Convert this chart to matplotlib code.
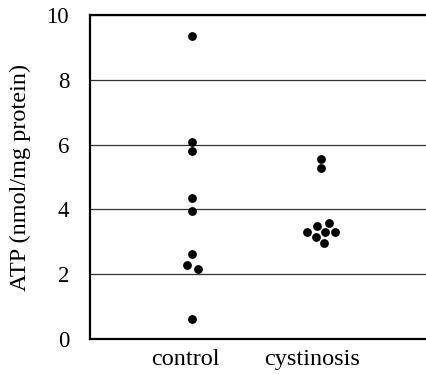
import matplotlib
matplotlib.use("Agg")
import matplotlib.pyplot as plt

# ATP content per group (nmol/mg protein)
categories = ["control", "cystinosis"]
control_atp = [9.34, 6.07, 5.81, 4.34, 3.94, 2.61, 2.28, 2.16, 0.63]
cystinosis_atp = [5.55, 5.28, 3.57, 3.49, 3.31, 3.31, 3.31, 3.16, 2.95]
yticks = [0, 2, 4, 6, 8, 10]

# horizontal spread of overlapping dots around each group position
control_dx = [0.055, 0.055, 0.055, 0.055, 0.055, 0.055, 0.013, 0.10, 0.055]
cystinosis_dx = [0.07, 0.07, 0.136, 0.037, -0.037, 0.102, 0.183, 0.031, 0.094]

plt.rcParams["font.family"] = ["Liberation Serif", "DejaVu Serif"]

fig = plt.figure(figsize=(4.26, 3.74), dpi=100)
ax = fig.add_axes([90 / 426, 1 - 339 / 374, 336 / 426, 324 / 374])

ax.set_ylim(0, 10)
ax.set_xlim(0.252, 2.898)
ax.set_yticks(yticks)
ax.set_yticklabels([str(t) for t in yticks])
ax.yaxis.grid(True, color="#333333", linewidth=0.9)
ax.set_axisbelow(True)

for pos, vals, dx in [(1, control_atp, control_dx), (2, cystinosis_atp, cystinosis_dx)]:
    ax.scatter([pos + d for d in dx], vals, s=40, color="black", zorder=3, linewidths=0)

ax.set_xticks([1, 2])
ax.set_xticklabels(categories)
ax.tick_params(axis="y", length=0, labelsize=16.5, pad=15)
ax.tick_params(axis="x", length=0, labelsize=17.5, pad=7)

ax.set_ylabel("ATP (nmol/mg protein)", fontsize=17.5, labelpad=11)

for side in ["left", "bottom", "top"]:
    ax.spines[side].set_linewidth(1.6)
    ax.spines[side].set_color("black")
ax.spines["right"].set_visible(False)

fig.savefig("out.png", dpi=100)
